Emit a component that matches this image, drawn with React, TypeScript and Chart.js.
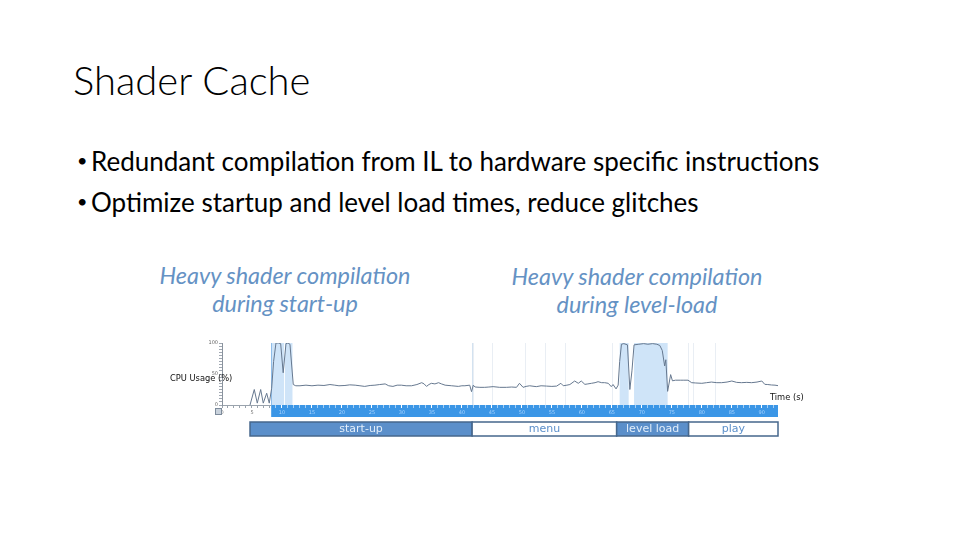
import React, { useEffect, useRef } from 'react';
import { Chart, registerables } from 'chart.js';

Chart.register(...registerables);

// ---------- slide text ----------
const TITLE = 'Shader Cache';
const BULLETS = [
  'Redundant compilation from IL to hardware specific instructions',
  'Optimize startup and level load times, reduce glitches',
];
const CALLOUT_LEFT = ['Heavy shader compilation', 'during start-up'];
const CALLOUT_RIGHT = ['Heavy shader compilation', 'during level-load'];
const Y_LABEL = 'CPU Usage (%)';
const X_LABEL = 'Time (s)';

// ---------- chart data ----------
const timeSec = [
  4.67, 5.38, 5.88, 6.45, 6.88, 7.45, 7.88, 8.28, 8.6, 9.0, 9.4, 9.78, 10.2, 10.67, 11.0, 11.33, 11.88,
  12.3, 13, 14, 15, 16, 17, 18, 18.8, 19.5, 20.5, 21.3, 22.2, 23, 23.8, 24.7, 25.5, 26.3, 27.2, 27.8,
  28.5, 29.2, 29.9, 30.7, 31.6, 32.5, 33.3, 33.7, 34.1, 34.5, 34.9, 35.5, 36.1, 36.6, 37.2, 38.3, 39.4,
  40, 40.5, 41.3, 41.6, 41.9, 42.2, 43, 43.8, 44.5, 45.2, 46.3, 47.4, 48.3, 49.1, 49.6, 50.2, 50.7,
  51.3, 52.4, 53.2, 54.1, 55, 55.8, 56.5, 56.9, 57.5, 58, 58.8, 59.4, 59.9, 60.5, 61, 61.6, 62.2, 62.7,
  63.3, 63.8, 64.4, 64.9, 65.2, 65.7, 66.05, 66.3, 66.6, 67, 67.6, 68.0, 68.35, 68.7, 69.5, 70.3, 71,
  71.8, 72.5, 73, 73.4, 73.8, 74.0, 74.3, 74.8, 75.1, 75.6, 76.4, 77, 77.7, 78.3, 79, 80, 80.8, 81.6,
  82.5, 83.3, 84.2, 85, 85.8, 86.6, 87.5, 88.3, 89.2, 90, 90.5, 91, 91.6, 92.2, 92.7,
];
const cpuUsage = [
  0, 25, 3, 25, 3, 19, 3, 27, 70, 100, 100, 99, 52, 99, 100, 98, 33,
  31, 31, 32, 31, 32, 31.5, 33, 32, 31, 31.5, 32.5, 32, 31, 30, 31.5, 32, 33, 34, 31,
  30, 32, 32, 31, 31, 33, 36, 34, 30, 33, 35, 34, 36, 34, 32, 31, 30,
  31, 31, 32, 21.5, 32, 29, 28.5, 28.5, 29, 29.6, 28.5, 28.5, 29, 28.5, 35, 28.5, 30,
  31, 29.6, 31, 30.5, 30, 30.5, 35, 31, 32, 33, 38.7, 35, 38.7, 33.3, 34, 35, 36, 37.6,
  36, 36, 35, 29.6, 33, 26, 32, 70, 98, 99, 97, 25, 55, 97, 98, 99, 98,
  99, 98, 96, 88, 63, 73, 22, 49, 39, 40, 40, 40, 40, 36, 35.5, 35, 36, 37,
  36, 36, 37, 38.7, 36.5, 36, 36.5, 36, 37, 38.7, 33.3, 33, 32.3, 32, 31.2,
];
const timeMax = 92.7;
const timelineStart = 8.2;
const yTickLabels = [0, 50, 100];
const highlightStart = [8.2, 10.5, 66.3, 68.7];
const highlightEnd = [10.35, 11.75, 67.8, 74.3];
const markerTimes = [41.8, 45, 50.5, 53.8, 57.2, 65, 77.7, 78.5, 82.2];
const phaseNames = ['start-up', 'menu', 'level load', 'play'];
const phaseStart = [4.67, 41.7, 65.8, 77.8];
const phaseEnd = [41.7, 65.8, 77.8, 92.7];
const phaseFilled = [true, false, true, false];

const decor = {
  id: 'decor',
  beforeDraw(chart: any) {
    const { ctx, chartArea, scales } = chart;
    const x = scales.x;
    const b0 = x.getPixelForValue(timelineStart);
    const b1 = x.getPixelForValue(timeMax);
    ctx.save();
    ctx.fillStyle = '#3b96e6';
    ctx.fillRect(b0, chartArea.bottom, b1 - b0, 12);
    ctx.strokeStyle = '#9aa3ad';
    ctx.lineWidth = 1;
    ctx.beginPath();
    ctx.moveTo(x.getPixelForValue(0), chartArea.bottom + 0.5);
    ctx.lineTo(b0, chartArea.bottom + 0.5);
    ctx.stroke();
    ctx.restore();
  },
  beforeDatasetsDraw(chart: any) {
    const { ctx, chartArea, scales } = chart;
    const x = scales.x;
    ctx.save();
    ctx.strokeStyle = '#e9eef4';
    ctx.lineWidth = 1;
    markerTimes.forEach((t) => {
      const px = Math.round(x.getPixelForValue(t)) + 0.5;
      ctx.beginPath();
      ctx.moveTo(px, chartArea.top);
      ctx.lineTo(px, chartArea.bottom);
      ctx.stroke();
    });
    ctx.fillStyle = '#cfe4f8';
    highlightStart.forEach((s, i) => {
      const p0 = x.getPixelForValue(s);
      const p1 = x.getPixelForValue(highlightEnd[i]);
      ctx.fillRect(p0, chartArea.top, p1 - p0, chartArea.bottom - chartArea.top);
    });
    ctx.strokeStyle = '#8fbde9';
    const bx = Math.round(x.getPixelForValue(timelineStart)) + 0.5;
    ctx.beginPath();
    ctx.moveTo(bx, chartArea.top);
    ctx.lineTo(bx, chartArea.bottom);
    ctx.stroke();
    const mx = Math.round(x.getPixelForValue(phaseStart[1])) + 0.5;
    ctx.strokeStyle = '#d3e2f0';
    ctx.beginPath();
    ctx.moveTo(mx, chartArea.top);
    ctx.lineTo(mx, chartArea.bottom);
    ctx.stroke();
    ctx.restore();
  },
  afterDraw(chart: any) {
    const { ctx, chartArea, scales } = chart;
    const x = scales.x;
    ctx.save();
    const top = chartArea.bottom + 17;
    const h = 14;
    ctx.font = '11px "DejaVu Sans", sans-serif';
    ctx.textAlign = 'center';
    ctx.textBaseline = 'middle';
    phaseNames.forEach((name, i) => {
      const p0 = x.getPixelForValue(phaseStart[i]);
      const p1 = x.getPixelForValue(phaseEnd[i]);
      ctx.fillStyle = phaseFilled[i] ? '#5b8fca' : '#ffffff';
      ctx.fillRect(p0, top, p1 - p0, h);
      ctx.strokeStyle = '#46678c';
      ctx.lineWidth = 1.5;
      ctx.strokeRect(p0, top, p1 - p0, h);
      ctx.fillStyle = phaseFilled[i] ? '#e3eefa' : '#5b8fca';
      ctx.fillText(name, (p0 + p1) / 2, top + h / 2 + 0.5);
    });
    // axis captions
    ctx.textAlign = 'left';
    ctx.textBaseline = 'alphabetic';
    ctx.fillStyle = '#111111';
    ctx.font = '8.3px "DejaVu Sans", sans-serif';
    ctx.fillText(Y_LABEL, 170, 381);
    ctx.fillText(X_LABEL, 770, 400);
    // small icon
    ctx.strokeStyle = '#7d8b9b';
    ctx.fillStyle = '#c9d2dc';
    ctx.lineWidth = 1;
    ctx.fillRect(215.5, 408.5, 6, 6);
    ctx.strokeRect(215.5, 408.5, 6, 6);
    ctx.restore();
  },
};

export default function App() {
  const ref = useRef<HTMLCanvasElement>(null);
  useEffect(() => {
    const chart = new Chart(ref.current as HTMLCanvasElement, {
      type: 'line',
      data: {
        datasets: [
          {
            data: timeSec.map((t, i) => ({ x: t, y: cpuUsage[i] })),
            borderColor: '#66788f',
            borderWidth: 1,
            pointRadius: 0,
            tension: 0,
          },
        ],
      },
      options: {
        animation: false,
        responsive: false,
        layout: { padding: { left: 206, right: 182, top: 343, bottom: 123 } },
        plugins: { legend: { display: false }, tooltip: { enabled: false } },
        scales: {
          x: {
            type: 'linear',
            min: 0,
            max: timeMax,
            afterFit: (s: any) => {
              s.height = 12;
            },
            border: { display: false },
            grid: {
              drawOnChartArea: false,
              tickLength: 3,
              tickColor: (c: any) =>
                c.tick && c.tick.value >= timelineStart
                  ? c.tick.value % 5 === 0
                    ? '#ffffff'
                    : 'rgba(255,255,255,0.55)'
                  : '#9aa3ad',
            },
            ticks: {
              stepSize: 1,
              autoSkip: false,
              includeBounds: false,
              maxRotation: 0,
              padding: 2,
              font: { size: 5, family: 'DejaVu Sans' },
              color: (c: any) => (c.tick && c.tick.value >= timelineStart ? '#a8d4ff' : '#777777'),
              callback: (v: any) => (v % 5 === 0 ? String(v) : ''),
            },
          },
          y: {
            min: 0,
            max: 100,
            afterFit: (s: any) => {
              s.width = 16;
            },
            border: { color: '#8a939e' },
            grid: { drawOnChartArea: false, tickLength: 3, tickColor: '#a0a8b2' },
            ticks: {
              stepSize: 5,
              autoSkip: false,
              padding: 1,
              font: { size: 5, family: 'DejaVu Sans' },
              color: '#666666',
              callback: (v: any) => (yTickLabels.includes(v) ? String(v) : ''),
            },
          },
        },
      },
      plugins: [decor],
    });
    return () => chart.destroy();
  }, []);

  const calloutStyle: React.CSSProperties = {
    position: 'absolute',
    width: 320,
    textAlign: 'center',
    fontStyle: 'italic',
    fontWeight: 400,
    fontSize: 23.4,
    lineHeight: '28px',
    color: '#6592c4',
    whiteSpace: 'nowrap',
  };

  return (
    <div
      style={{
        position: 'absolute',
        left: 0,
        top: 0,
        width: 960,
        height: 540,
        background: '#ffffff',
        overflow: 'hidden',
        fontFamily: 'Lato, "Open Sans", sans-serif',
        color: '#000000',
      }}
    >
      <div
        style={{
          position: 'absolute',
          left: 73,
          top: 60,
          fontSize: 40,
          fontWeight: 300,
          lineHeight: 1,
          whiteSpace: 'nowrap',
        }}
      >
        {TITLE}
      </div>
      {BULLETS.map((b, i) => (
        <div
          key={i}
          style={{ position: 'absolute', left: 0, top: 148 + i * 41, fontSize: 26, lineHeight: 1, whiteSpace: 'nowrap' }}
        >
          <span style={{ position: 'absolute', left: 77, top: 3, fontSize: 18 }}>•</span>
          <span style={{ position: 'absolute', left: 91 }}>{b}</span>
        </div>
      ))}
      <div style={{ ...calloutStyle, left: 125, top: 261 }}>
        {CALLOUT_LEFT[0]}
        <br />
        {CALLOUT_LEFT[1]}
      </div>
      <div style={{ ...calloutStyle, left: 477, top: 262 }}>
        {CALLOUT_RIGHT[0]}
        <br />
        {CALLOUT_RIGHT[1]}
      </div>
      <canvas ref={ref} width={960} height={540} style={{ position: 'absolute', left: 0, top: 0 }} />
    </div>
  );
}
